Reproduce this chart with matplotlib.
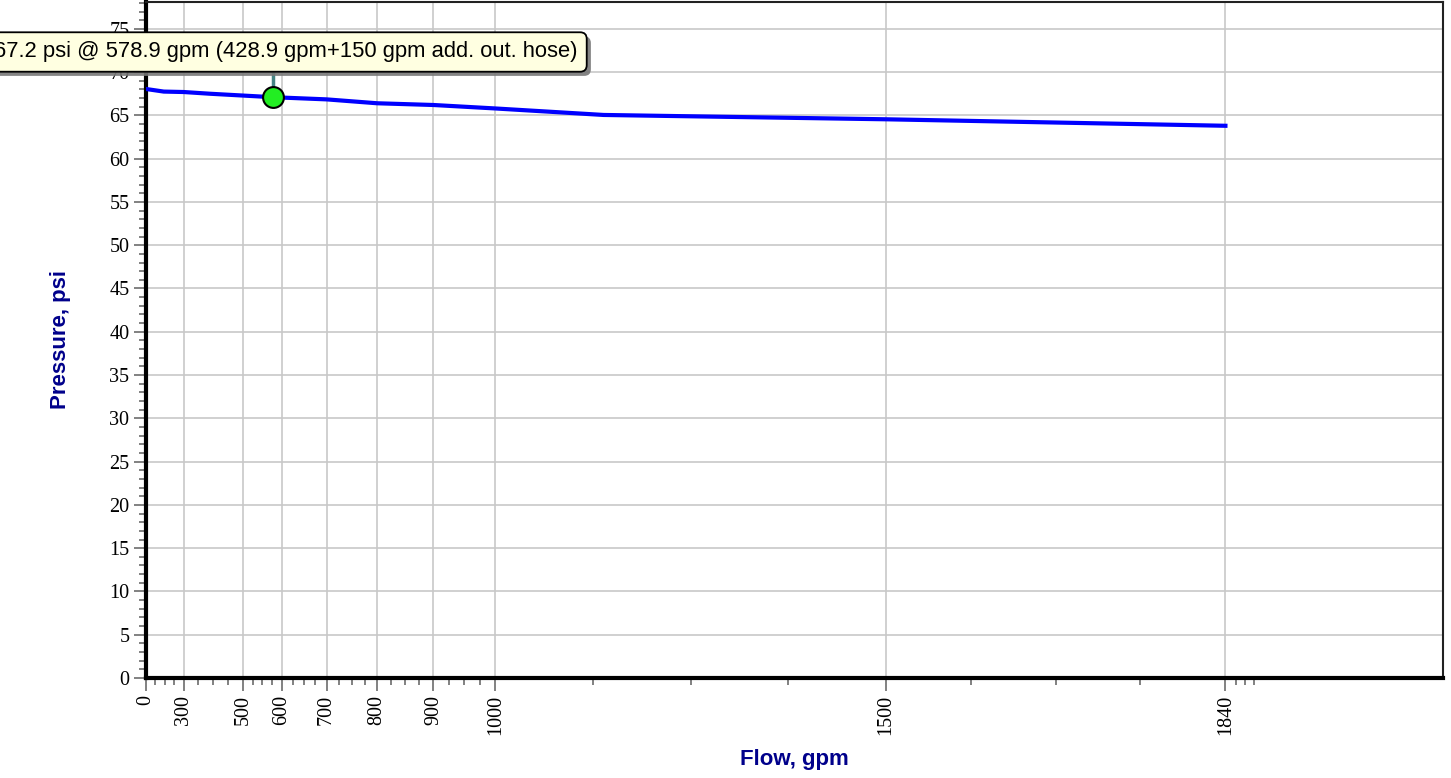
import matplotlib
matplotlib.use('Agg')
import matplotlib.pyplot as plt
import matplotlib.patheffects as pe
import numpy as np

# Pump/hose curve (flow in gpm, pressure in psi)
flow_gpm = [0, 200, 300, 400, 578.9, 700, 800, 900, 1000, 1157, 1500, 1840]
pressure_psi = [68.05, 67.75, 67.7, 67.5, 67.1, 66.85, 66.4, 66.2, 65.8, 65.05, 64.55, 63.8]

# Operating point with its callout
point_flow = 578.9
point_pressure = 67.1
callout = '67.2 psi @ 578.9 gpm (428.9 gpm+150 gpm add. out. hose)'

# Tick values
x_major = [0, 300, 500, 600, 700, 800, 900, 1000, 1500, 1840]
x_extra_minor = [1850, 1858, 1866]
y_major = list(range(0, 80, 5))
y_minor = list(range(0, 79))

# N^1.85 water supply graph paper
EXP = 1.85


def fwd(x):
    x = np.asarray(x, dtype=float)
    return np.sign(x) * np.abs(x) ** EXP


def inv(y):
    y = np.asarray(y, dtype=float)
    return np.sign(y) * np.abs(y) ** (1 / EXP)


# minor ticks split every major interval in 4 equal parts on the paper
x_minor = []
for a, b in zip(x_major[:-1], x_major[1:]):
    ta, tb = fwd(a), fwd(b)
    for k in (1, 2, 3):
        x_minor.append(float(inv(ta + (tb - ta) * k / 4)))
x_minor += x_extra_minor

W, H = 1451, 778
fig = plt.figure(figsize=(W / 100, H / 100), dpi=100)
ax = fig.add_axes([146 / W, 1 - 678 / H, (1443 - 146) / W, (678 - 2) / H])

ax.set_xscale('function', functions=(fwd, inv))
ax.set_xlim(0, 2032)
ax.set_ylim(0, 78.1)

ax.set_xticks(x_major)
ax.set_xticks(x_minor, minor=True)
ax.set_yticks(y_major)
ax.set_yticks(y_minor, minor=True)
ax.set_xticklabels([str(v) for v in x_major], rotation=90,
                   fontfamily='Liberation Serif', fontsize=14.5)
ax.set_yticklabels([str(v) for v in y_major],
                   fontfamily='Liberation Serif', fontsize=14.5)
ax.tick_params(which='major', length=9, width=1.3, color='#777777', pad=3)
ax.tick_params(which='minor', length=5, width=1.3, color='#777777')

ax.set_axisbelow(True)
ax.grid(True, which='major', color='#c8c8c8', linewidth=1.2)

for side in ('left', 'bottom'):
    ax.spines[side].set_linewidth(3)
    ax.spines[side].set_color('black')
for side in ('top', 'right'):
    ax.spines[side].set_linewidth(1.5)
    ax.spines[side].set_color('#222222')

# curve
ax.plot(flow_gpm, pressure_psi, color='#0000ff', linewidth=3, zorder=3)

# stem from marker up to callout box, then the marker
ax.plot([point_flow, point_flow], [point_pressure, 70.2], color='#468484',
        linewidth=2.5, zorder=4, clip_on=False)
ax.plot([point_flow], [point_pressure], 'o', markersize=15,
        markerfacecolor='#22ee22', markeredgecolor='black', markeredgewidth=1.5,
        zorder=5)

lab_font = dict(fontfamily='Liberation Sans', fontsize=16, fontweight='bold',
                color='#00008b')
ax.set_xlabel('Flow, gpm', **lab_font)
ax.set_ylabel('Pressure, psi', **lab_font)
ax.xaxis.set_label_coords(0.5, -0.105)
ax.yaxis.set_label_coords(-0.058, 0.5)

# callout runs off the left edge of the picture, as in the original
t = fig.text(-6 / W, 1 - 52 / H, callout, ha='left', va='center',
             fontfamily='Liberation Sans', fontsize=15.8, color='black',
             bbox=dict(boxstyle='round,pad=0.42,rounding_size=0.3',
                       facecolor='#ffffe1', edgecolor='black', linewidth=1.3))
t.get_bbox_patch().set_path_effects([
    pe.SimplePatchShadow(offset=(3, -3), shadow_rgbFace='#777777', alpha=0.9),
    pe.Normal()])

fig.savefig('out.png', dpi=100)
